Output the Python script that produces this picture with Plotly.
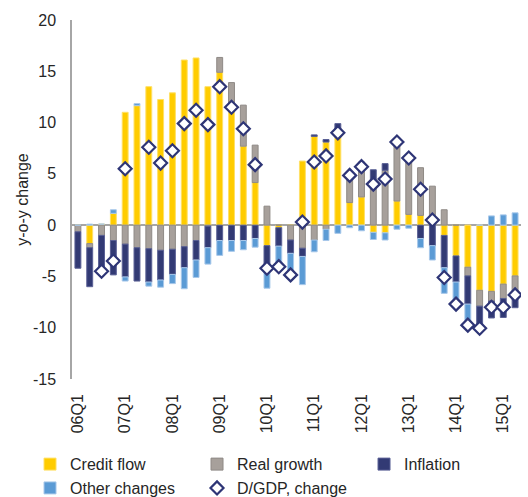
import plotly.graph_objects as go

# Quarters 06Q1 .. 15Q2
quarters = ['06Q1', '06Q2', '06Q3', '06Q4', '07Q1', '07Q2', '07Q3', '07Q4',
            '08Q1', '08Q2', '08Q3', '08Q4', '09Q1', '09Q2', '09Q3', '09Q4',
            '10Q1', '10Q2', '10Q3', '10Q4', '11Q1', '11Q2', '11Q3', '11Q4',
            '12Q1', '12Q2', '12Q3', '12Q4', '13Q1', '13Q2', '13Q3', '13Q4',
            '14Q1', '14Q2', '14Q3', '14Q4', '15Q1', '15Q2']
tick_labels = ['06Q1', '07Q1', '08Q1', '09Q1', '10Q1', '11Q1', '12Q1', '13Q1', '14Q1', '15Q1']
y_ticks = [-15, -10, -5, 0, 5, 10, 15, 20]
y_tick_text = ['-15', '-10', '-5', '0', '5', '10', '15', '20']

credit_flow = [0, -1.8, 0.1, 1.15, 11.0, 11.65, 13.5, 12.25, 12.9, 16.1, 16.3, 13.5, 14.9, 11.2, 7.7, 4.15,
               -2.0, -0.25, 0, 6.25, 8.65, 8.1, 9.3, 2.2, 2.75, -0.7, -0.75, 2.35, 1.05, 0.95, 0, -1.0,
               -3.0, -4.1, -6.35, -6.45, -5.75, -4.95]
real_growth = [-0.65, -0.4, -1.0, -1.5, -1.85, -2.2, -2.3, -2.45, -2.35, -2.1, -1.5, -0.1, 1.45, 2.7, 4.0, 3.65,
               1.85, 0, -1.45, -2.25, -1.45, -0.4, 0, 2.65, 2.75, 4.55, 5.35, 6.0, 5.1, 4.65, 3.8, 1.5,
               0, -0.85, -1.55, -0.95, -1.4, -1.4]
inflation = [-3.55, -3.8, -3.9, -3.35, -3.2, -3.25, -3.25, -2.9, -2.45, -2.05, -1.9, -2.1, -1.5, -1.5, -1.5, -1.3,
             -1.8, -1.8, -1.3, -0.8, 0.15, 0.25, 0.6, 0, 0.65, 0.85, 0.65, 0, 0, -1.3, -2.0, -3.15,
             -2.55, -2.75, -2.2, -1.65, -1.85, -1.7]
other_changes = [0, 0.1, 0, 0.35, -0.4, 0.2, -0.4, -0.7, -0.9, -2.05, -1.7, -1.6, -1.45, -1.05, -0.9, -0.85,
                 -2.35, -2.0, -1.95, -2.75, -1.15, -1.1, -0.8, -0.25, -0.55, -0.7, -0.7, -0.4, -0.3, -0.9, -1.4, -2.5,
                 -2.5, -2.05, 0, 0.9, 1.0, 1.2]
dgdp_change = [None, None, -4.5, -3.5, 5.5, None, 7.6, 6.05, 7.25, 9.9, 11.2, 9.8, 13.5, 11.5, 9.4, 5.9,
               -4.2, -4.05, -4.85, 0.3, 6.15, 6.75, 9.0, 4.85, 5.7, 4.0, 4.5, 8.1, 6.55, 3.5, 0.5, -5.1,
               -7.7, -9.75, -10.05, -8.0, -8.0, -6.8]

font_main = dict(family='Liberation Sans, Arial, sans-serif', size=16, color='#262626')

fig = go.Figure()

# stacked components
bar_styles = [
    ('Credit flow', credit_flow, '#FFCC00', '#FFE066'),
    ('Real growth', real_growth, '#A7A09B', '#8F8A86'),
    ('Inflation', inflation, '#323A74', '#5A6095'),
    ('Other changes', other_changes, '#5B9BD5', '#A8C8EA'),
]
for name, vals, fill, edge in bar_styles:
    fig.add_trace(go.Bar(
        x=quarters,
        y=vals,
        name=name,
        marker=dict(color=fill, line=dict(color=edge, width=1)),
    ))

# D/GDP markers
fig.add_trace(go.Scatter(
    x=quarters,
    y=dgdp_change,
    mode='markers',
    name='D/GDP, change',
    marker=dict(symbol='diamond', size=10, color='white',
                line=dict(color='#2E3576', width=2.2)),
))

fig.update_layout(
    width=528, height=497,
    barmode='relative',
    bargap=0.5,
    plot_bgcolor='white',
    paper_bgcolor='white',
    font=font_main,
    margin=dict(l=72, r=7, t=20, b=118, autoexpand=False),
    legend=dict(
        orientation='h',
        x=-0.0935, xanchor='left',
        y=-0.19, yanchor='top',
        entrywidth=122,
        font=font_main,
        traceorder='normal',
    ),
    xaxis=dict(
        type='category',
        range=[-0.5, 37.5],
        tickmode='array',
        tickvals=tick_labels,
        ticktext=tick_labels,
        tickangle=-90,
        showline=False,
        showgrid=False,
        ticks='',
        ticklabelstandoff=11,
    ),
    yaxis=dict(
        title=dict(text='y-o-y change', font=font_main, standoff=0),
        range=[-15, 20],
        tickmode='array',
        tickvals=y_ticks,
        ticktext=y_tick_text,
        showgrid=False,
        showline=True,
        linecolor='#A6A6A6',
        linewidth=1.5,
        zeroline=True,
        zerolinecolor='#A6A6A6',
        zerolinewidth=2,
        ticks='',
        ticklabelstandoff=11,
    ),
)

# drop the default page margin so the figure sits at the window's corner
fig.write_html("out.html", config={'displayModeBar': False},
               post_script="document.body.style.margin='0';")
